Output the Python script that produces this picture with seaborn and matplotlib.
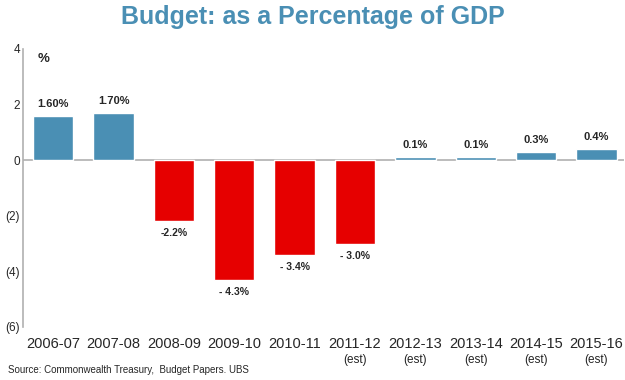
import matplotlib
matplotlib.use("Agg")
import matplotlib.pyplot as plt
import matplotlib.transforms as mtransforms
import pandas as pd
import seaborn as sns

years = ["2006-07", "2007-08", "2008-09", "2009-10", "2010-11",
         "2011-12", "2012-13", "2013-14", "2014-15", "2015-16"]
budget = [1.6, 1.7, -2.2, -4.3, -3.4, -3.0, 0.1, 0.1, 0.3, 0.4]
value_labels = ["1.60%", "1.70%", "-2.2%", "- 4.3%", "- 3.4%",
                "- 3.0%", "0.1%", "0.1%", "0.3%", "0.4%"]
estimate = [False, False, False, False, False, True, True, True, True, True]
y_ticks = [4, 2, 0, -2, -4, -6]
y_tick_labels = ["4", "2", "0", "(2)", "(4)", "(6)"]

blue = "#4a8fb4"
red = "#e60000"

df = pd.DataFrame({"year": years, "budget": budget})
df["sign"] = ["pos" if v >= 0 else "neg" for v in budget]

sns.set_style("white")
plt.rcParams["font.family"] = ["Liberation Sans", "DejaVu Sans"]

fig = plt.figure(figsize=(6.25, 3.8), dpi=100)
ax = fig.add_axes([0.0368, 0.1395, 0.961, 0.7316])

sns.barplot(data=df, x="year", y="budget", hue="sign",
            palette={"pos": blue, "neg": red}, dodge=False,
            width=0.67, legend=False, ax=ax, saturation=1)

ax.set_xlim(-0.5, 9.45)
ax.set_ylim(-6, 4)
ax.axhline(0, color="#b0b0b0", lw=1.2, zorder=0)

for s in ["top", "right", "bottom"]:
    ax.spines[s].set_visible(False)
ax.spines["left"].set_color("#b0b0b0")
ax.spines["left"].set_linewidth(1.2)

ax.set_yticks(y_ticks)
ax.set_yticklabels(y_tick_labels, fontsize=8.5)
ax.tick_params(axis="y", length=0, pad=2)
ax.set_xticks(range(len(years)))
ax.set_xticklabels(years, fontsize=10.5)
ax.tick_params(axis="x", length=0, pad=7)
ax.set_xlabel("")
ax.set_ylabel("")

trans = mtransforms.blended_transform_factory(ax.transData, ax.transAxes)
for i, est in enumerate(estimate):
    if est:
        ax.text(i, -0.12, "(est)", transform=trans, ha="center",
                va="center", fontsize=8.5, color="#222222")

for i, (v, lab) in enumerate(zip(budget, value_labels)):
    if v >= 0:
        ax.text(i, v + 0.25, lab, ha="center", va="bottom",
                fontsize=8, fontweight="bold")
    else:
        ax.text(i, v - 0.25, lab, ha="center", va="top",
                fontsize=7.5, fontweight="bold")

ax.text(0.025, 0.985, "%", transform=ax.transAxes, fontsize=9.5,
        fontweight="bold", va="top")

fig.text(0.5, 0.955, "Budget: as a Percentage of GDP", ha="center",
         va="center", fontsize=18, fontweight="bold", color="#4a8fb4")
fig.text(0.013, 0.027, "Source: Commonwealth Treasury,  Budget Papers. UBS",
         fontsize=7, va="center")

fig.savefig("out.png", dpi=100)
